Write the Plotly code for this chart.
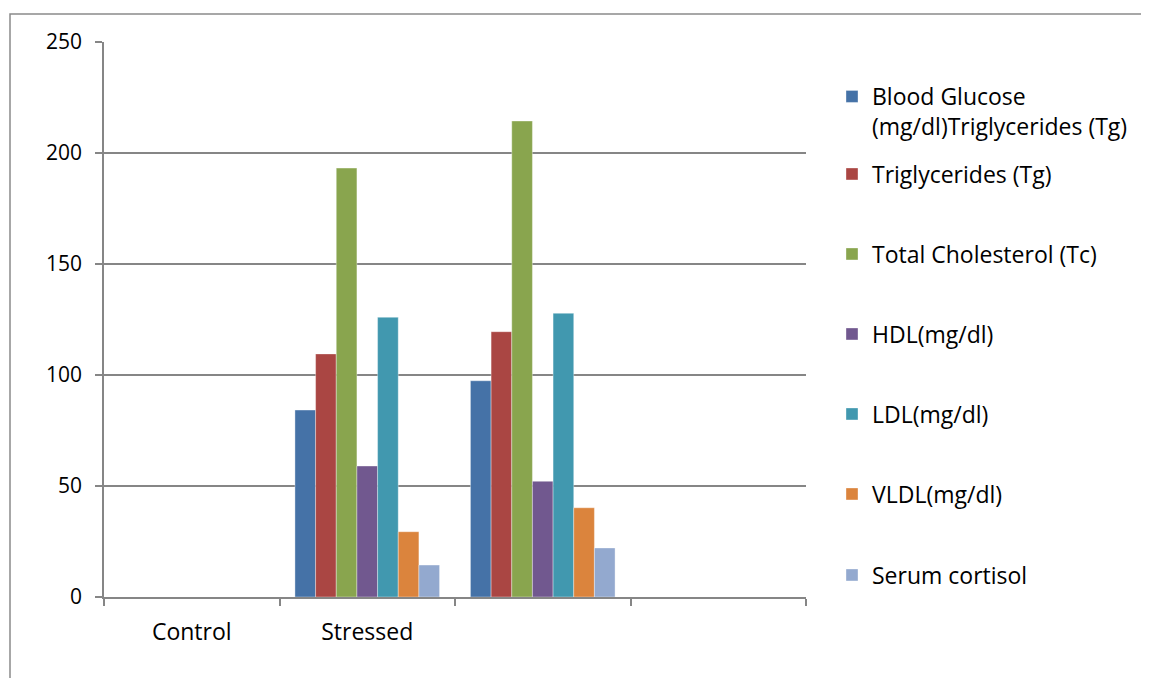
import plotly.graph_objects as go

categories = ["Control", "Stressed", " ", "  "]
series_names = [
    "Blood Glucose<br>(mg/dl)Triglycerides (Tg)",
    "Triglycerides (Tg)",
    "Total Cholesterol (Tc)",
    "HDL(mg/dl)",
    "LDL(mg/dl)",
    "VLDL(mg/dl)",
    "Serum cortisol",
]
blood_glucose = [None, 84.2, 97.4, None]
triglycerides = [None, 109.5, 119.5, None]
total_cholesterol = [None, 193.2, 214.4, None]
hdl = [None, 59.0, 52.1, None]
ldl = [None, 126.0, 127.8, None]
vldl = [None, 29.4, 40.2, None]
serum_cortisol = [None, 14.4, 22.1, None]
series_values = [blood_glucose, triglycerides, total_cholesterol, hdl, ldl, vldl, serum_cortisol]
colors = ["#4572A7", "#AA4643", "#89A54E", "#71588F", "#4198AF", "#DB843D", "#93A9CF"]
y_ticks = [0, 50, 100, 150, 200, 250]

OFF = 8  # page body margin
W, H = 1149 - OFF, 678 - OFF
L, R, T, B = 104, 806, 42, 597  # page pixel coords of plot area
FONT = "Open Sans, sans-serif"
FS_Y = 21
FS = 23

def px_x(px):
    return (px - L) / (R - L)

def px_y(py):
    return (B - py) / (B - T)

fig = go.Figure()
legend_centers = [111.5, 174, 254, 334, 414, 494, 575]
legend_keys = ["legend"] + [f"legend{i}" for i in range(2, 8)]
for i, (name, vals, col) in enumerate(zip(series_names, series_values, colors)):
    fig.add_trace(go.Bar(
        x=categories, y=vals, name=name,
        marker=dict(color=col, line=dict(width=0.6, color="rgba(255,255,255,0.6)")),
        legend=legend_keys[i],
    ))

layout_legends = {}
for i, key in enumerate(legend_keys):
    layout_legends[key] = dict(
        x=px_x(832), xanchor="left",
        y=px_y(legend_centers[i]), yanchor="middle",
        bgcolor="rgba(0,0,0,0)", borderwidth=0,
        font=dict(family=FONT, size=FS, color="#000000"),
        valign="top", itemclick=False, itemdoubleclick=False,
    )

fig.update_layout(
    width=W, height=H,
    margin=dict(l=L - OFF, r=W - (R - OFF), t=T - OFF, b=H - (B - OFF), pad=0),
    paper_bgcolor="white", plot_bgcolor="white",
    barmode="group", bargap=0.176, bargroupgap=0,
    showlegend=True,
    font=dict(family=FONT, size=FS, color="#000000"),
    **layout_legends,
)
fig.update_xaxes(
    type="category", categoryorder="array", categoryarray=categories,
    tickson="boundaries", ticks="outside", ticklen=7, tickcolor="#868686", tickwidth=1.5,
    showline=True, linecolor="#868686", linewidth=1.5,
    showgrid=False, ticklabelstandoff=14,
    tickfont=dict(family=FONT, size=FS, color="#000000"),
)
fig.update_yaxes(
    range=[0, 250], tickvals=y_ticks, ticks="outside", ticklen=7,
    tickcolor="#868686", tickwidth=1.5,
    showline=True, linecolor="#868686", linewidth=1.5,
    showgrid=True, gridcolor="#868686", gridwidth=1.5,
    zeroline=False, ticklabelstandoff=9,
    tickfont=dict(family=FONT, size=FS_Y, color="#000000"),
)
fig.add_shape(
    type="rect", xref="paper", yref="paper",
    x0=px_x(10), x1=px_x(1170), y0=px_y(700), y1=px_y(14),
    line=dict(color="#8a8a8a", width=1.5), fillcolor="rgba(0,0,0,0)", layer="below",
)
fig.write_html("out.html")
